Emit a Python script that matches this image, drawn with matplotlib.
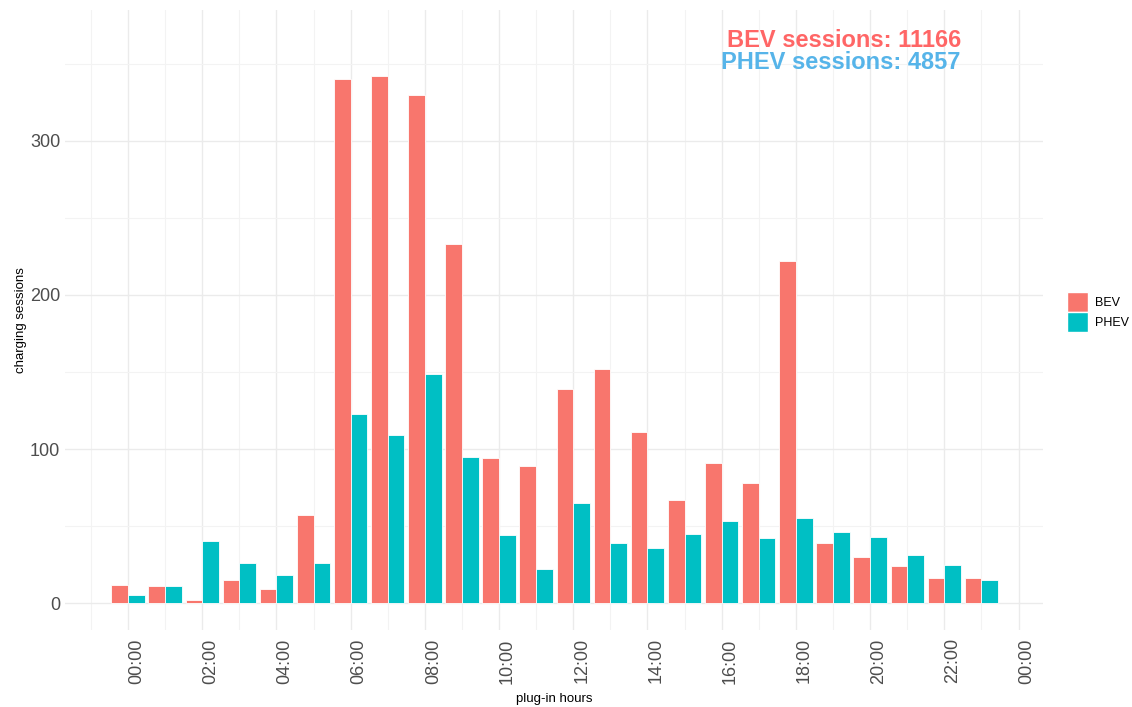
import matplotlib
matplotlib.use("Agg")
import matplotlib.pyplot as plt
from matplotlib.patches import Patch
import numpy as np

plt.rcParams['font.family'] = ['Liberation Sans', 'DejaVu Sans']

hours = list(range(24))
bev = [12, 11, 2, 15, 9, 57, 340, 342, 330, 233, 94, 89, 139, 152, 111, 67, 91, 78, 222, 39, 30, 24, 16, 16]
phev = [5, 11, 40, 26, 18, 26, 123, 109, 149, 95, 44, 22, 65, 39, 36, 45, 53, 42, 55, 46, 43, 31, 25, 15]
tick_hours = list(range(0, 25, 2))
tick_labels = ["00:00", "02:00", "04:00", "06:00", "08:00", "10:00", "12:00",
               "14:00", "16:00", "18:00", "20:00", "22:00", "00:00"]
series_names = ["BEV", "PHEV"]
bev_total = 11166
phev_total = 4857

c_bev = "#F8766D"
c_phev = "#00BFC4"

fig = plt.figure(figsize=(11.32, 7.07), dpi=100)
ax = fig.add_axes([65/1132, 1-630/707, (1043-65)/1132, (630-10)/707])

x = np.array(hours, dtype=float)
w = 0.45
ax.bar(x - w/2, bev, width=w, color=c_bev, edgecolor="white", linewidth=0.6, zorder=3)
ax.bar(x + w/2, phev, width=w, color=c_phev, edgecolor="white", linewidth=0.6, zorder=3)

ax.set_xlim(-1.7, 24.66)
ax.set_ylim(-17.5, 385)

ax.set_xticks(tick_hours)
ax.set_xticklabels(tick_labels, rotation=90, fontsize=13, color="#4D4D4D", ha="left")
ax.set_xticks(np.arange(-1, 25, 2), minor=True)
ax.set_yticks([0, 100, 200, 300])
ax.set_yticklabels(["0", "100", "200", "300"], fontsize=13, color="#4D4D4D")
ax.set_yticks([50, 150, 250, 350], minor=True)

ax.grid(which="major", color="#EBEBEB", linewidth=1.0, zorder=0)
ax.grid(which="minor", color="#F3F3F3", linewidth=0.8, zorder=0)
ax.tick_params(axis="x", which="both", length=0, pad=6)
ax.tick_params(axis="y", which="both", length=0, pad=3.5)
for s in ax.spines.values():
    s.set_visible(False)

ax.set_xlabel("plug-in hours", fontsize=9.5, labelpad=7)
ax.set_ylabel("charging sessions", fontsize=9.5, labelpad=2)

ax.text(19.3, 365.5, f"BEV sessions: {bev_total}", color="#FF6666", fontsize=17,
        fontweight="bold", ha="center", va="center", zorder=5)
ax.text(19.2, 350.6, f"PHEV sessions: {phev_total}", color="#56B4E9", fontsize=17,
        fontweight="bold", ha="center", va="center", zorder=5)

handles = [Patch(facecolor=c_bev, edgecolor="white", label=series_names[0]),
           Patch(facecolor=c_phev, edgecolor="white", label=series_names[1])]
ax.legend(handles=handles, loc="center left", bbox_to_anchor=(1.019, 0.513),
          frameon=False, fontsize=9, handlelength=1.7, handleheight=2.0,
          handletextpad=0.6, labelspacing=0.05, borderaxespad=0)

fig.savefig("out.png", dpi=100)
